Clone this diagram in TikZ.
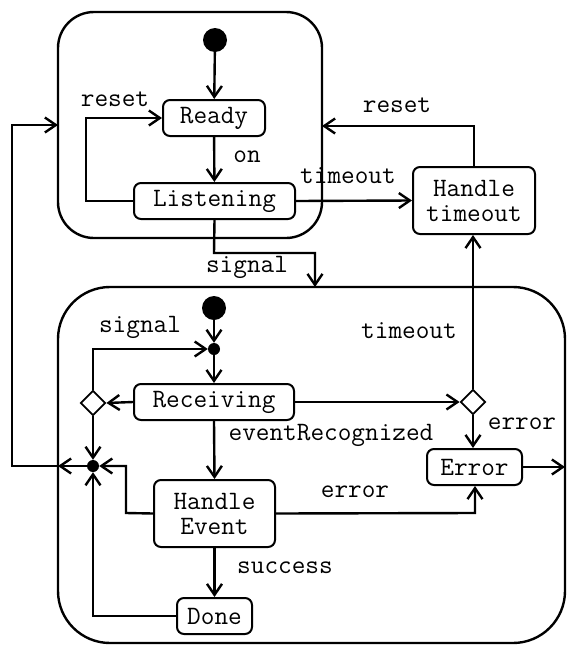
\documentclass[tikz,border=0pt]{standalone}
\usepackage{fontspec}
\usetikzlibrary{arrows.meta,shapes.geometric}
\begin{document}
\begin{tikzpicture}[x=1pt,y=-1pt,
  every node/.style={font=\ttfamily\fontsize{26.5}{25}\selectfont},
  state/.style={draw,rounded corners=7pt,line width=2pt,inner sep=0pt,align=center},
  initdot/.style={circle,fill=black,draw=none,minimum size=24pt,inner sep=0pt},
  jdot/.style={circle,fill=black,draw=none,minimum size=12pt,inner sep=0pt},
  choice/.style={diamond,draw,line width=1.8pt,fill=white,minimum size=25pt,inner sep=0pt},
  lbl/.style={inner sep=0pt},
  edge/.style={line width=2.4pt,-{Straight Barb[length=11pt,width=15pt]}},
  region/.style={draw,line width=2.4pt}]
\useasboundingbox (0,0) rectangle (568,646);
% regions
\draw[region,rounded corners=36pt] (58,12) rectangle (322,238);
\draw[region,rounded corners=52pt] (58,287) rectangle (565,643);
% top states
\node[initdot] (init1) at (215,40) {};
\node[state,minimum width=102pt,minimum height=36pt] (ready) at (214,118) {Ready};
\node[state,minimum width=161pt,minimum height=36pt] (listening) at (214.5,201) {Listening};
\node[state,minimum width=122pt,minimum height=67pt] (htimeout) at (474,200.5) {Handle\\timeout};
% bottom states
\node[initdot] (init2) at (214,308) {};
\node[jdot] (j1) at (214,349) {};
\node[state,minimum width=160pt,minimum height=36pt] (receiving) at (214,402) {Receiving};
\node[choice] (dL) at (93,403) {};
\node[choice] (dR) at (473,402) {};
\node[jdot] (j2) at (93,466) {};
\node[state,minimum width=121pt,minimum height=67pt] (hevent) at (214.5,513.5) {Handle\\Event};
\node[state,minimum width=75pt,minimum height=36pt] (done) at (214.5,616) {Done};
\node[state,minimum width=95pt,minimum height=36pt] (error) at (474.5,467) {Error};
% free ends
\coordinate (topL) at (58,125);
\coordinate (topR) at (322,126);
\coordinate (botTop) at (315,287);
\coordinate (botL) at (58,466);
\coordinate (botR) at (565,467);
% labels
\node[lbl] (lon) at (247,157) {on};
\node[lbl] (lreset1) at (115,99) {reset};
\node[lbl] (ltimeout1) at (348,176) {timeout};
\node[lbl] (lreset2) at (397,105) {reset};
\node[lbl] (lsignal1) at (247,267) {signal};
\node[lbl] (lsignal2) at (140,327) {signal};
\node[lbl] (levent) at (331,435) {eventRecognized};
\node[lbl] (lsuccess) at (285,568) {success};
\node[lbl] (lerror1) at (355,492) {error};
\node[lbl] (ltimeout2) at (409,331) {timeout};
\node[lbl] (lerror2) at (522,424) {error};
% edges top
\draw[edge] (init1) -- (ready);
\draw[edge] (ready) -- (listening);
\draw[edge] (listening.west) -- (86,201) -- (86,118) -- (ready.west);
\draw[edge] (listening.east) -- (htimeout.west);
\draw[edge] (htimeout.north) -- (474,126) -- (topR);
\draw[edge] (listening.south) -- (214,253) -- (315,253) -- (botTop);
% edges bottom
\draw[edge] (init2) -- (j1);
\draw[edge] (j1) -- (receiving);
\draw[edge] (receiving.west) -- (dL.east);
\draw[edge] (dL.north) -- (93,349) -- (j1.west);
\draw[edge] (dL.south) -- (j2.north);
\draw[edge] (receiving.south) -- (hevent.north);
\draw[edge] (hevent.west) -- (126,513) -- (126,466) -- (j2.east);
\draw[edge] (hevent.south) -- (done.north);
\draw[edge] (done.west) -- (93,616) -- (j2.south);
\draw[edge] (hevent.east) -- (475,513) -- (error.south -| 475,0);
\draw[edge] (receiving.east) -- (dR.west);
\draw[edge] (dR.north) -- (htimeout.south -| dR.north);
\draw[edge] (dR.south) -- (error.north -| dR.south);
\draw[edge] (error.east) -- (botR);
\draw[edge] (j2.west) -- (botL);
\draw[edge] (botL) -- (12,466) -- (12,125) -- (topL);
\end{tikzpicture}
\end{document}
